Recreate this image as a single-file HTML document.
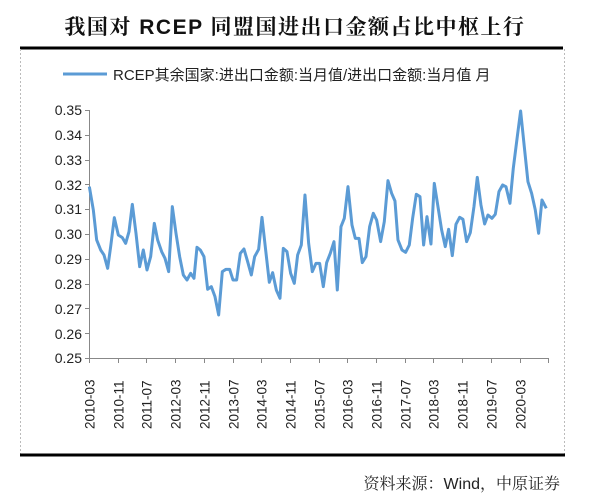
<!DOCTYPE html>
<html><head><meta charset="utf-8"><style>
body{margin:0;background:#fff;}
svg{display:block;}
</style></head><body>
<svg width="600" height="500" xmlns="http://www.w3.org/2000/svg">
<rect width="600" height="500" fill="#fff"/>
<text x="295" y="34" text-anchor="middle" font-family="'Liberation Sans','Noto Serif CJK SC',serif" font-size="21" font-weight="bold" letter-spacing="1.5" fill="#111">我国对 RCEP 同盟国进出口金额占比中枢上行</text>
<line x1="20" y1="48" x2="563" y2="48" stroke="#000" stroke-width="3"/>
<line x1="20.5" y1="49" x2="20.5" y2="454" stroke="#bbb" stroke-dasharray="2,2"/>
<line x1="564.5" y1="49" x2="564.5" y2="454" stroke="#bbb" stroke-dasharray="2,2"/>
<line x1="20" y1="455" x2="565" y2="455" stroke="#000" stroke-width="3"/>
<line x1="63" y1="74" x2="107" y2="74" stroke="#5b9bd5" stroke-width="3"/>
<text x="113" y="80" font-family="'Liberation Sans','Noto Sans CJK SC',sans-serif" font-size="15" fill="#222">RCEP其余国家:进出口金额:当月值/进出口金额:当月值 月</text>
<g font-family="'Liberation Sans',sans-serif" font-size="14" fill="#222" text-anchor="end">
<text x="82" y="115">0.35</text><text x="82" y="140">0.34</text><text x="82" y="165">0.33</text><text x="82" y="190">0.32</text><text x="82" y="214">0.31</text><text x="82" y="239">0.30</text><text x="82" y="264">0.29</text><text x="82" y="289">0.28</text><text x="82" y="314">0.27</text><text x="82" y="339">0.26</text><text x="82" y="363">0.25</text>
</g>
<g stroke="#888" stroke-width="1">
<line x1="89.5" y1="110" x2="89.5" y2="358"/>
<line x1="85" y1="358.5" x2="548" y2="358.5"/>
<line x1="85" y1="110.5" x2="89" y2="110.5"/><line x1="85" y1="135.5" x2="89" y2="135.5"/><line x1="85" y1="160.5" x2="89" y2="160.5"/><line x1="85" y1="184.5" x2="89" y2="184.5"/><line x1="85" y1="209.5" x2="89" y2="209.5"/><line x1="85" y1="234.5" x2="89" y2="234.5"/><line x1="85" y1="259.5" x2="89" y2="259.5"/><line x1="85" y1="284.5" x2="89" y2="284.5"/><line x1="85" y1="308.5" x2="89" y2="308.5"/><line x1="85" y1="333.5" x2="89" y2="333.5"/>
</g>
<g stroke="#888" id="ticks"></g>
<g font-family="'Liberation Sans',sans-serif" font-size="13.5" fill="#222" id="xl"></g>
<g transform="translate(60,90) scale(0.3333)">
<polyline fill="none" stroke="#5b9bd5" stroke-width="9" stroke-linejoin="round" points="88,290 100,360 110,450 122,480 132,495 143,535 152,470 163,383 175,435 187,443 197,460 207,425 217,343 228,430 239,530 250,480 261,540 272,500 283,400 293,450 305,485 315,505 326,545 337,350 348,430 359,500 370,555 381,570 392,550 402,565 411,472 421,480 432,500 443,598 454,590 465,620 476,675 487,545 498,538 509,538 519,570 530,570 541,490 552,477 563,515 574,555 584,500 596,478 606,382 617,480 628,577 638,548 649,600 660,625 670,475 681,485 692,550 703,580 713,495 724,465 735,315 746,460 757,545 768,520 779,520 790,590 800,518 811,490 822,455 832,600 843,410 853,385 864,290 876,405 886,445 897,445 907,518 918,500 929,410 940,370 950,390 962,455 973,395 984,272 995,310 1005,333 1014,450 1026,480 1037,487 1048,465 1058,385 1069,313 1080,320 1091,465 1101,380 1113,462 1123,280 1134,350 1145,420 1156,470 1166,418 1177,497 1188,403 1199,382 1209,388 1220,455 1231,428 1242,350 1252,262 1263,345 1274,402 1284,375 1296,385 1306,373 1317,305 1328,285 1338,290 1350,340 1360,235 1372,140 1382,63 1393,170 1404,275 1415,310 1426,360 1436,430 1446,330 1459,355"/>
</g>
<text x="560" y="489" text-anchor="end" font-family="'Liberation Sans','Noto Serif CJK SC',serif" font-size="16" fill="#222">资料来源：Wind，中原证券</text>
<script>
var labs=["2010-03","2010-11","2011-07","2012-03","2012-11","2013-07","2014-03","2014-11","2015-07","2016-03","2016-11","2017-07","2018-03","2018-11","2019-07","2020-03"];
var t=document.getElementById("ticks"),xl=document.getElementById("xl"),ns="http://www.w3.org/2000/svg";
for(var i=0;i<=16;i++){var x=Math.round(89+i*28.7)+0.5;var l=document.createElementNS(ns,"line");l.setAttribute("x1",x);l.setAttribute("x2",x);l.setAttribute("y1",358);l.setAttribute("y2",363);t.appendChild(l);
if(i<16){var tx=document.createElementNS(ns,"text");tx.setAttribute("transform","translate("+(x+5)+",429) rotate(-90)");tx.textContent=labs[i];xl.appendChild(tx);}}
</script>
</svg>
</body></html>
